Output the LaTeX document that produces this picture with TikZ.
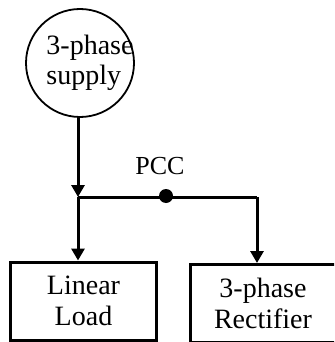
\documentclass[tikz,border=0pt]{standalone}
\usepackage{fontspec}
\setmainfont{Liberation Serif}
\usetikzlibrary{arrows.meta,positioning}

\tikzset{
  block/.style={draw, line width=3pt, minimum width=146pt, minimum height=78pt,
    inner sep=0pt, align=center, font=\fontsize{28}{31}\selectfont},
  source/.style={draw, circle, line width=1.8pt, minimum size=108pt, inner sep=0pt},
  feed/.style={line width=3pt, -{Triangle[length=12pt,width=13pt]}},
  wire/.style={line width=3pt},
  bus/.style={circle, fill, inner sep=0pt, minimum size=14pt},
}

\begin{document}
\begin{tikzpicture}[x=1pt,y=-1pt]
      \clip (0,0) rectangle (334,342);
      \node[source] (supply) at (80,63) {};
      \node[align=left, font=\fontsize{28}{30}\selectfont] (supplytext) at (90,63) {3-phase\\supply};
      \coordinate (j) at (78,197);
      \coordinate (k) at (257,197);
      \node[bus] (pcc) at (166,196) {};
      \node[above=14pt of pcc, xshift=-6pt, inner sep=0pt, font=\fontsize{26}{28}\selectfont] (pcclabel) {PCC};
      \node[block] (load) at (83.5,301) {Linear\\Load};
      \node[block] (rect) at (263,303.5) {3-phase\\Rectifier};

      \draw[feed] (supply.south -| j) -- (j);
      \draw[wire] (j) -- (k);
      \draw[feed] (j) -- (load.north -| j);
      \draw[feed] (k) -- (rect.north -| k);
\end{tikzpicture}
\end{document}
